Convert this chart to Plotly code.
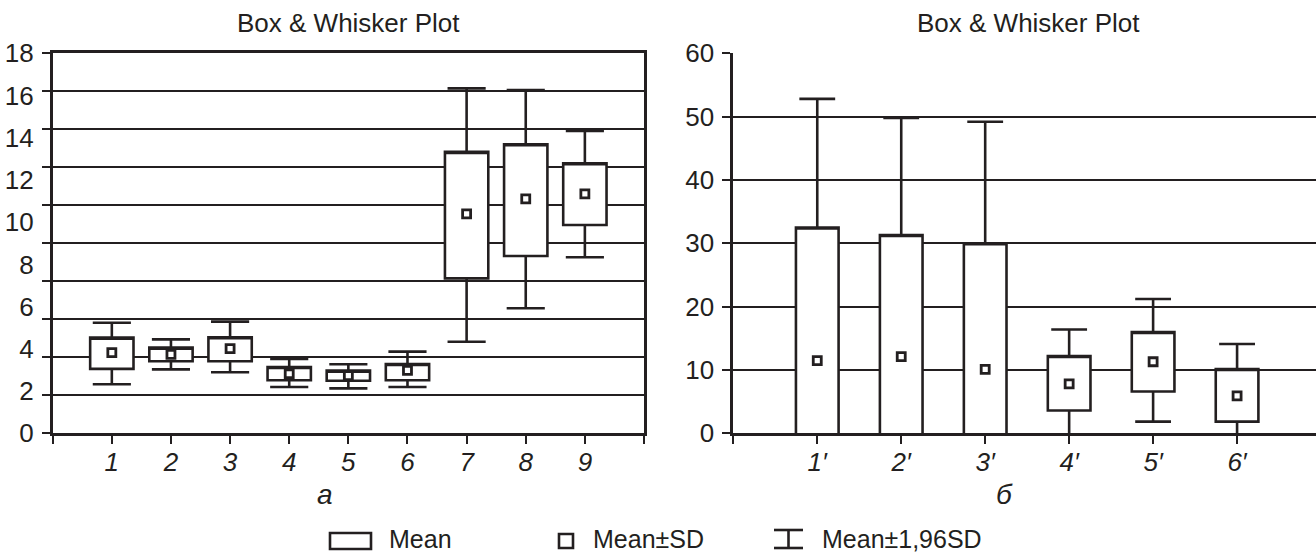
import plotly.graph_objects as go

W, H = 1316, 553
INK = "#231f20"
FONT = "Liberation Sans, Arial, Helvetica, sans-serif"

# ---------------- data: panel a ----------------
cats_a = [1, 2, 3, 4, 5, 6, 7, 8, 9]
labels_a = ["1", "2", "3", "4", "5", "6", "7", "8", "9"]
mean_a = [3.82, 3.74, 4.01, 2.82, 2.73, 2.98, 10.39, 11.10, 11.34]
sd_lo_a = [3.05, 3.41, 3.41, 2.51, 2.49, 2.51, 7.34, 8.40, 9.87]
sd_hi_a = [4.53, 4.06, 4.55, 3.14, 2.97, 3.28, 13.33, 13.69, 12.79]
ci_lo_a = [2.32, 3.03, 2.89, 2.19, 2.13, 2.19, 4.34, 5.92, 8.34]
ci_hi_a = [5.24, 4.45, 5.29, 3.52, 3.27, 3.87, 16.34, 16.26, 14.32]
yticks_a = [0, 2, 4, 6, 8, 10, 12, 14, 16, 18]

# ---------------- data: panel б ----------------
cats_b = [1, 2, 3, 4, 5, 6]
labels_b = ["1\u2032", "2\u2032", "3\u2032", "4\u2032", "5\u2032", "6\u2032"]
mean_b = [11.47, 12.1, 10.1, 7.8, 11.3, 5.9]
sd_lo_b = [-9.6, -7.1, -9.8, 3.6, 6.6, 1.85]
sd_hi_b = [32.5, 31.3, 30.0, 12.2, 16.0, 10.15]
ci_lo_b = [-29.9, -25.6, -29.0, -0.8, 1.85, -2.3]
ci_hi_b = [52.8, 49.8, 49.2, 16.4, 21.2, 14.1]
yticks_b = [0, 10, 20, 30, 40, 50, 60]

titles = ["Box & Whisker Plot", "Box & Whisker Plot"]
xtitles = ["\u0430", "\u0431"]
legend_labels = ["Mean", "Mean\u00b1SD", "Mean\u00b11,96SD"]


def px(x):
    return x / W


def py(y):
    return 1 - y / H


fig = go.Figure()


def add_panel(xa, ya, cats, lo_ci, lo_sd, hi_sd, hi_ci, mean, width, ww):
    fig.add_trace(go.Box(
        x=cats, q1=lo_sd, median=hi_sd, q3=hi_sd,
        lowerfence=lo_ci, upperfence=hi_ci,
        width=width, whiskerwidth=ww,
        fillcolor="white", line=dict(color=INK, width=2.6),
        boxpoints=False, hoverinfo="skip", showlegend=False,
        xaxis=xa, yaxis=ya,
    ))
    fig.add_trace(go.Scatter(
        x=cats, y=mean, mode="markers",
        marker=dict(symbol="square", size=8, color="white",
                    line=dict(color=INK, width=2.8)),
        showlegend=False, hoverinfo="skip", cliponaxis=False,
        xaxis=xa, yaxis=ya,
    ))


add_panel("x", "y", cats_a, ci_lo_a, sd_lo_a, sd_hi_a, ci_hi_a, mean_a, 0.733, 0.88)
add_panel("x2", "y2", cats_b, ci_lo_b, sd_lo_b, sd_hi_b, ci_hi_b, mean_b, 0.508, 0.84)

FS = 26
tickfont = dict(family=FONT, size=FS, color=INK)
itfont = dict(family=FONT, size=FS, color=INK, style="italic")

ydom = [py(433.3), py(53.3)]

fig.update_layout(
    width=W, height=H,
    margin=dict(l=0, r=0, t=0, b=0),
    paper_bgcolor="white", plot_bgcolor="white",
    boxmode="overlay",
    showlegend=False,
    xaxis=dict(
        domain=[px(52.7), px(644)], range=[0, 10], type="linear",
        tickvals=cats_a, ticktext=labels_a, tickfont=itfont,
        ticks="outside", ticklen=8, tickwidth=2, tickcolor=INK,
        minor=dict(tick0=0, dtick=1, ticks="outside", ticklen=8,
                   tickwidth=2, tickcolor=INK, showgrid=False),
        showgrid=False, zeroline=False, showline=True, linecolor=INK,
        linewidth=3, mirror=True, automargin=False, ticklabelstandoff=-5,
        fixedrange=True,
    ),
    yaxis=dict(
        domain=ydom, range=[0, 18], anchor="x",
        tickvals=yticks_a, ticktext=[str(v) for v in yticks_a], tickfont=tickfont,
        ticks="outside", ticklen=8, tickcolor="rgba(0,0,0,0)",
        minor=dict(tick0=0, dtick=1.8, ticks="outside", ticklen=8, tickwidth=2,
                   tickcolor=INK, showgrid=True, gridcolor=INK, gridwidth=2.3),
        showgrid=False, zeroline=False, showline=True, linecolor=INK,
        linewidth=2.8, mirror=True, automargin=False, ticklabelstandoff=3,
        fixedrange=True,
    ),
    xaxis2=dict(
        domain=[px(733.3), 1.0], range=[0, 6.94], type="linear", anchor="y2",
        tickvals=cats_b, ticktext=labels_b, tickfont=itfont,
        ticks="outside", ticklen=8, tickwidth=2, tickcolor=INK,
        minor=dict(tick0=0, dtick=1, ticks="outside", ticklen=8,
                   tickwidth=2, tickcolor=INK, showgrid=False),
        showgrid=False, zeroline=False, showline=True, linecolor=INK,
        linewidth=3, mirror=False, automargin=False, ticklabelstandoff=-5,
        fixedrange=True,
    ),
    yaxis2=dict(
        domain=ydom, range=[0, 60], anchor="x2",
        tickvals=yticks_b, ticktext=[str(v) for v in yticks_b], tickfont=tickfont,
        ticks="outside", ticklen=8, tickwidth=2, tickcolor=INK,
        showgrid=True, gridcolor=INK, gridwidth=2.3,
        zeroline=False, showline=True, linecolor=INK,
        linewidth=2.8, mirror=False, automargin=False, ticklabelstandoff=3,
        fixedrange=True,
    ),
)

annos = []
title_font = dict(family=FONT, size=FS, color=INK)
legend_font = dict(family=FONT, size=25, color=INK)
for cx, t in zip([348.3, 1028.0], titles):
    annos.append(dict(x=px(cx), y=py(23), xref="paper", yref="paper",
                      text=t, showarrow=False, font=title_font,
                      xanchor="center", yanchor="middle"))
for cx, t in zip([325.0, 1004.0], xtitles):
    annos.append(dict(x=px(cx), y=py(494), xref="paper", yref="paper",
                      text=t, showarrow=False,
                      font=dict(family=FONT, size=28, color=INK, style="italic"),
                      xanchor="center", yanchor="middle"))
for lx, t in zip([387.0, 591.0, 820.0], legend_labels):
    annos.append(dict(x=px(lx), y=py(538.5), xref="paper", yref="paper",
                      text=t, showarrow=False, font=legend_font,
                      xanchor="left", yanchor="middle"))

shapes = [
    dict(type="rect", xref="paper", yref="paper",
         x0=px(330), x1=px(371), y0=py(549), y1=py(533),
         line=dict(color=INK, width=2.6), fillcolor="white"),
    dict(type="rect", xref="paper", yref="paper",
         x0=px(559), x1=px(573), y0=py(548), y1=py(534),
         line=dict(color=INK, width=2.6), fillcolor="white"),
    dict(type="line", xref="paper", yref="paper",
         x0=px(774), x1=px(803), y0=py(530), y1=py(530),
         line=dict(color=INK, width=2.6)),
    dict(type="line", xref="paper", yref="paper",
         x0=px(774), x1=px(803), y0=py(548), y1=py(548),
         line=dict(color=INK, width=2.6)),
    dict(type="line", xref="paper", yref="paper",
         x0=px(788.5), x1=px(788.5), y0=py(530), y1=py(548),
         line=dict(color=INK, width=2.6)),
]

fig.update_layout(annotations=annos, shapes=shapes)

fig.write_html(
    "out.html",
    config={"displayModeBar": False},
    post_script="document.body.style.margin='0';document.body.style.overflow='hidden';",
)
